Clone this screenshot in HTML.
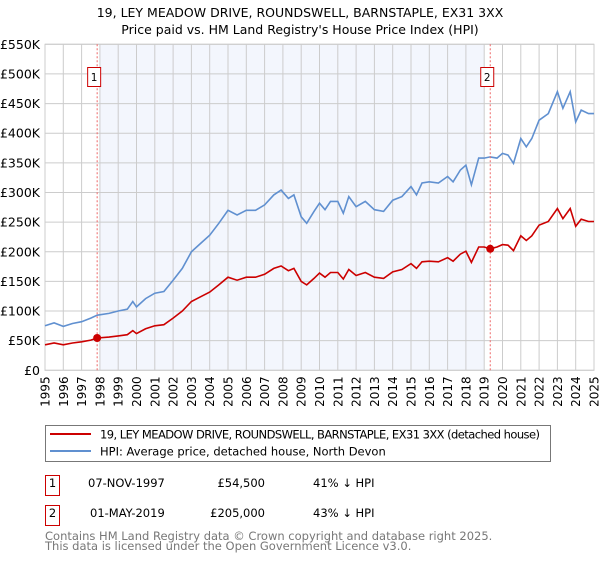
<!DOCTYPE html>
<html><head><meta charset="utf-8">
<style>
body{margin:0;background:#fff;font-family:"Liberation Sans","DejaVu Sans",sans-serif;}
svg text{font-family:"DejaVu Sans","Liberation Sans",sans-serif;}
</style></head>
<body>
<svg id="chart" width="600" height="560" viewBox="0 0 600 560">
<text x="300" y="17" text-anchor="middle" font-size="12.5" fill="#000">19, LEY MEADOW DRIVE, ROUNDSWELL, BARNSTAPLE, EX31 3XX</text>
<text x="300" y="34" text-anchor="middle" font-size="12.5" fill="#000">Price paid vs. HM Land Registry's House Price Index (HPI)</text>
<g id="plot"></g>
<g>
<rect x="45.5" y="425.5" width="505" height="36" fill="#fff" stroke="#777"/>
<line x1="50" y1="434" x2="91" y2="434" stroke="#cc0000" stroke-width="2"/>
<text x="100" y="438.5" font-size="11.5" textLength="440">19, LEY MEADOW DRIVE, ROUNDSWELL, BARNSTAPLE, EX31 3XX (detached house)</text>
<line x1="50" y1="451" x2="91" y2="451" stroke="#6090d0" stroke-width="2"/>
<text x="100" y="455.5" font-size="11.5">HPI: Average price, detached house, North Devon</text>
</g>
<g font-size="11.5">
<rect x="45.5" y="475.5" width="14" height="20" fill="none" stroke="#cc0000"/>
<text x="52.5" y="487" text-anchor="middle">1</text>
<text x="88" y="487">07-NOV-1997</text>
<text x="265" y="487" text-anchor="end">£54,500</text>
<text x="313" y="487">41% ↓ HPI</text>
<rect x="45.5" y="505.5" width="14" height="20" fill="none" stroke="#cc0000"/>
<text x="52.5" y="517" text-anchor="middle">2</text>
<text x="90" y="517">01-MAY-2019</text>
<text x="265" y="517" text-anchor="end">£205,000</text>
<text x="313" y="517">43% ↓ HPI</text>
</g>
<text x="45" y="540" font-size="11.5" fill="#777">Contains HM Land Registry data © Crown copyright and database right 2025.</text>
<text x="45" y="550" font-size="11.5" fill="#777">This data is licensed under the Open Government Licence v3.0.</text>
</svg>
<script>
const years=[1995.0,1995.5,1996.0,1996.5,1997.0,1997.5,1997.85,1998.5,1999.0,1999.5,1999.8,2000.0,2000.5,2001.0,2001.5,2002.0,2002.5,2003.0,2003.5,2004.0,2004.5,2005.0,2005.5,2006.0,2006.5,2007.0,2007.5,2007.9,2008.3,2008.6,2009.0,2009.3,2009.7,2010.0,2010.3,2010.6,2011.0,2011.3,2011.6,2012.0,2012.5,2013.0,2013.5,2014.0,2014.5,2015.0,2015.3,2015.6,2016.0,2016.5,2017.0,2017.3,2017.7,2018.0,2018.3,2018.7,2019.0,2019.33,2019.7,2020.0,2020.3,2020.6,2021.0,2021.3,2021.6,2022.0,2022.5,2023.0,2023.3,2023.7,2024.0,2024.3,2024.7,2025.0];
const hpi=[75,80,74,79,82,88,93,96,100,103,116,107,121,130,133,152,172,200,214,228,248,270,262,270,270,279,296,304,290,296,259,248,268,282,271,285,285,265,293,276,285,271,268,287,293,310,296,316,318,316,327,318,338,346,313,358,358,360,358,366,363,349,391,377,391,422,433,470,442,470,419,439,433,433];
const price=[43,46,43,46,48,51,54.5,56,58,60,67,62,70,75,77,88,100,116,124,132,144,157,152,157,157,162,172,176,168,172,150,144,155,164,157,165,165,154,170,160,165,157,155,166,170,180,172,183,184,183,190,184,196,201,182,208,208,205,208,212,211,202,227,219,227,245,251,273,256,273,243,255,251,251];
const saleYears=[1997.85,2019.33];
const salePrices=[54.5,205];
const saleLabels=["1","2"];
const yTicks=[0,50,100,150,200,250,300,350,400,450,500,550];
const yTickLabels=["£0","£50K","£100K","£150K","£200K","£250K","£300K","£350K","£400K","£450K","£500K","£550K"];
const xTicks=[1995,1996,1997,1998,1999,2000,2001,2002,2003,2004,2005,2006,2007,2008,2009,2010,2011,2012,2013,2014,2015,2016,2017,2018,2019,2020,2021,2022,2023,2024,2025];

const NS="http://www.w3.org/2000/svg";
const L=45,R=594,T=44.3,B=370.3;
const X=y=>L+(y-1995)/30*(R-L);
const Y=v=>B-v/550*(B-T);
const g=document.getElementById('plot');
function mk(t,a){const e=document.createElementNS(NS,t);for(const k in a)e.setAttribute(k,a[k]);g.appendChild(e);return e;}
const sh=mk('rect',{x:X(1998.0),y:T,width:X(2019.0)-X(1998.0),height:B-T,fill:'#f0f4fd',opacity:0.8});


yTicks.forEach((v,i)=>{
  const ln=mk('line',{x1:L,x2:R,y1:Y(v),y2:Y(v),stroke:'#cccccc','stroke-width':1});
  
  
  const t=mk('text',{x:40,y:Y(v)+4.5,'text-anchor':'end','font-size':12.5});
  t.textContent=yTickLabels[i];
  
  
});
xTicks.forEach(yr=>{
  const ln=mk('line',{x1:X(yr),x2:X(yr),y1:T,y2:B,stroke:'#cccccc','stroke-width':1});
  
  
  const t=mk('text',{x:0,y:0,'text-anchor':'end','font-size':12,transform:`translate(${X(yr)+4.5},${B+6}) rotate(-90)`});
  t.textContent=yr;
  
  
});
const fr=mk('rect',{x:L,y:T,width:R-L,height:B-T,fill:'none',stroke:'#cccccc'});


function path(arr){return arr.map((v,i)=>(i?'L':'M')+X(years[i]).toFixed(1)+','+Y(v).toFixed(1)).join(' ');}
const hl=mk('path',{d:path(hpi),fill:'none',stroke:'#6090d0','stroke-width':1.6});


const pl=mk('path',{d:path(price),fill:'none',stroke:'#cc0000','stroke-width':1.6});


saleYears.forEach((yr,i)=>{
  const vl=mk('line',{x1:X(yr),x2:X(yr),y1:T,y2:B,stroke:'#ee6666','stroke-dasharray':'2,2','stroke-width':1});
  
  
  const pt=mk('circle',{cx:X(yr),cy:Y(salePrices[i]),r:4,fill:'#cc0000'});
  
  
  const bx=mk('rect',{x:X(yr)-9.5,y:67.5,width:13,height:19,fill:'#fff',stroke:'#cc0000'});
  
  
  const tx=mk('text',{x:X(yr)-3,y:81,'text-anchor':'middle','font-size':10.5});
  tx.textContent=saleLabels[i];
  
  
});
</script>
</body></html>
